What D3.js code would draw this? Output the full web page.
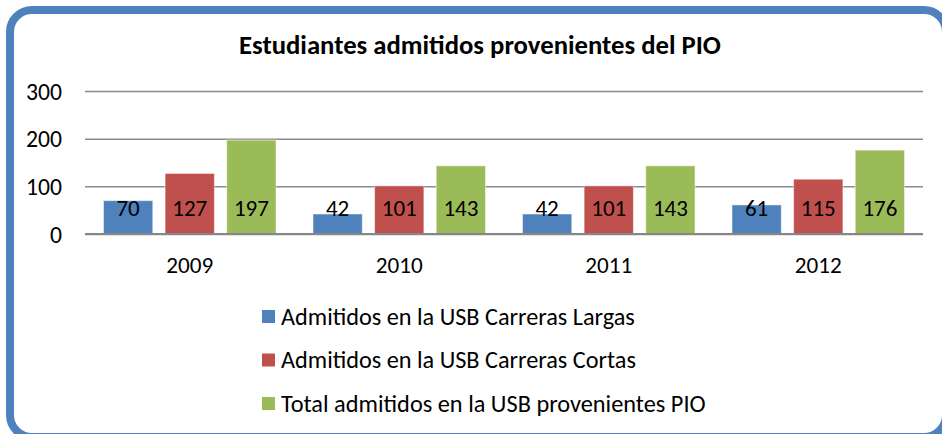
<!DOCTYPE html>
<html>
<head>
<meta charset="utf-8">
<script src="https://cdn.jsdelivr.net/npm/d3@7"></script>
<style>
  html, body { margin: 0; padding: 0; background: #fff; }
  svg { display: block; }
  text { font-family: Carlito, Calibri, Lato, "Open Sans", sans-serif; fill: #000; }
</style>
</head>
<body>
<svg id="chart" width="942" height="434"></svg>
<script>
const title = "Estudiantes admitidos provenientes del PIO";
const categories = ["2009", "2010", "2011", "2012"];
const seriesNames = [
  "Admitidos en la USB Carreras Largas",
  "Admitidos en la USB Carreras Cortas",
  "Total admitidos en la USB provenientes PIO"
];
const largas = [70, 42, 42, 61];
const cortas = [127, 101, 101, 115];
const total = [197, 143, 143, 176];
const yTicks = [0, 100, 200, 300];
const colors = ["#4F81BD", "#C0504D", "#9BBB59"];

const seriesValues = [largas, cortas, total];

const svg = d3.select("#chart");

// fit text to a target width by adjusting font-size
function fit(sel, target) {
  sel.each(function() {
    const w = this.getComputedTextLength();
    const fs = parseFloat(d3.select(this).style("font-size"));
    if (w > 0) d3.select(this).style("font-size", (fs * target / w) + "px");
  });
}
// size a whole group from one reference element
function fitGroup(sel, refText, target) {
  let size = null;
  sel.each(function() {
    if (d3.select(this).text() === refText) {
      const w = this.getComputedTextLength();
      const fs = parseFloat(d3.select(this).style("font-size"));
      size = fs * target / w;
    }
  });
  if (size) sel.style("font-size", size + "px");
}

// Frame
svg.append("rect")
  .attr("x", 10).attr("y", 10)
  .attr("width", 936).attr("height", 427)
  .attr("rx", 22).attr("ry", 22)
  .attr("fill", "#fff")
  .attr("stroke", "#4F81BD")
  .attr("stroke-width", 8);

// Title
svg.append("text")
  .attr("x", 480).attr("y", 54)
  .attr("text-anchor", "middle")
  .style("font-size", "22px")
  .style("font-weight", "bold")
  .text(title)
  .call(fit, 482);

const x = d3.scaleBand().domain(categories).range([85, 923]).padding(0);
const xs = d3.scaleBand().domain(d3.range(seriesNames.length))
  .range([0, x.bandwidth()]).paddingInner(0.2).paddingOuter(0.3);
const y = d3.scaleLinear().domain([0, 300]).range([234, 91]);

// Gridlines
const yAxis = d3.axisLeft(y).tickValues(yTicks).tickSize(-(923 - 85)).tickFormat(d3.format("d"));
const gy = svg.append("g").attr("transform", "translate(85,0)").call(yAxis);
gy.select(".domain").remove();
gy.selectAll(".tick line").attr("stroke", "#8c8c8c").attr("stroke-width", 1.5);
gy.selectAll(".tick text")
  .attr("x", -23).attr("dy", "0.35em")
  .style("font-size", "20px")
  .attr("fill", "#000")
  .call(fitGroup, "300", 36);

// Bars
const groups = svg.append("g").selectAll("g")
  .data(categories).join("g")
  .attr("transform", d => `translate(${x(d)},0)`);

groups.selectAll("rect")
  .data((d, i) => seriesValues.map((s, k) => ({ k, v: s[i] })))
  .join("rect")
  .attr("x", d => xs(d.k))
  .attr("width", xs.bandwidth())
  .attr("y", d => y(d.v))
  .attr("height", d => y(0) - y(d.v))
  .attr("fill", d => colors[d.k])
  .attr("stroke", "rgba(255,255,255,0.5)")
  .attr("stroke-width", 1);

const vals = groups.selectAll("text.val")
  .data((d, i) => seriesValues.map((s, k) => ({ k, v: s[i] })))
  .join("text")
  .attr("class", "val")
  .attr("x", d => xs(d.k) + xs.bandwidth() / 2)
  .attr("y", y(0) - 26)
  .attr("dy", "0.35em")
  .attr("text-anchor", "middle")
  .style("font-size", "20px")
  .text(d => d.v);
fitGroup(svg.selectAll("text.val"), "197", 35);

// Zero axis line
svg.append("line")
  .attr("x1", 85).attr("x2", 923)
  .attr("y1", y(0)).attr("y2", y(0))
  .attr("stroke", "#868686").attr("stroke-width", 2);

// X labels
const xAxis = d3.axisBottom(x).tickSize(0);
const gx = svg.append("g").attr("transform", `translate(0,${y(0)})`).call(xAxis);
gx.select(".domain").remove();
gx.selectAll(".tick text")
  .attr("y", 31).attr("dy", "0.35em")
  .style("font-size", "20px")
  .attr("fill", "#000")
  .call(fitGroup, "2009", 47);

// Legend
const legendWidths = [354, 355, 425];
const leg = svg.append("g").selectAll("g")
  .data(seriesNames).join("g")
  .attr("transform", (d, i) => `translate(262,${316 + i * 43.5})`);
leg.append("rect")
  .attr("x", 0).attr("y", -6)
  .attr("width", 13).attr("height", 13)
  .attr("fill", (d, i) => colors[i]);
leg.append("text")
  .attr("x", 19).attr("y", 0).attr("dy", "0.35em")
  .style("font-size", "20px")
  .text(d => d)
  .each(function(d, i) { d3.select(this).call(fit, legendWidths[i]); });
</script>
</body>
</html>
